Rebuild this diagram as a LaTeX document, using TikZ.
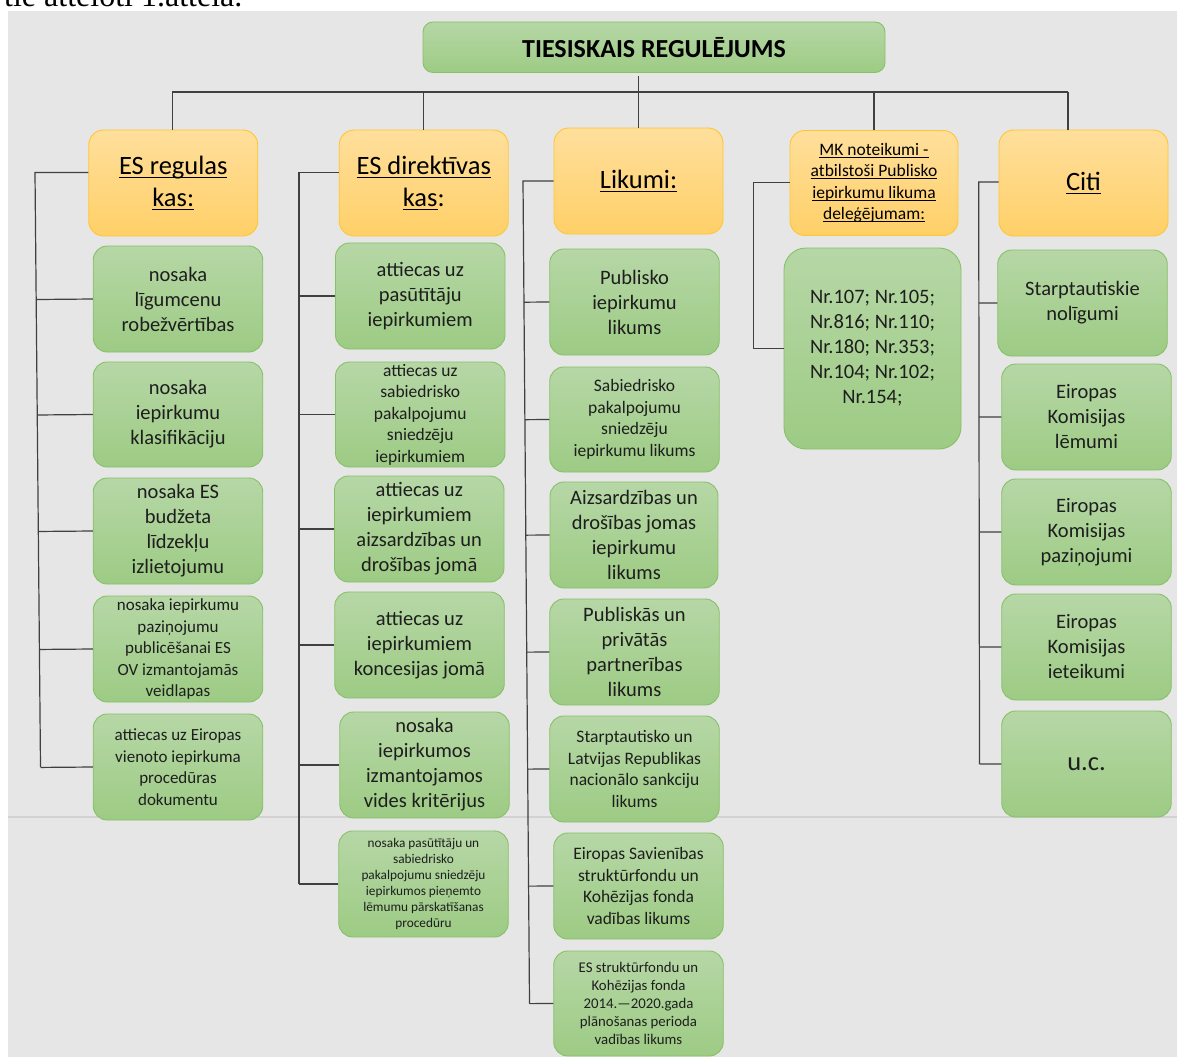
\documentclass[tikz,border=0pt]{standalone}
\usepackage{fontspec}
\setmainfont{Carlito}
\newfontfamily\capfont{Liberation Serif}
\usetikzlibrary{calc}
\definecolor{bggray}{RGB}{230,230,230}
\definecolor{pbline}{RGB}{210,210,210}
\definecolor{lnc}{RGB}{64,64,64}
\definecolor{gtop}{RGB}{182,215,166}
\definecolor{gbot}{RGB}{157,203,132}
\definecolor{gbd}{RGB}{135,193,103}
\definecolor{otop}{RGB}{255,223,156}
\definecolor{obot}{RGB}{255,208,104}
\definecolor{obd}{RGB}{255,198,48}
\definecolor{gtxt}{RGB}{30,30,30}
\newcommand\myfs[2]{\fontsize{#1}{#2}\selectfont}
\newcommand\myul[1]{\setbox0\hbox{#1}\rlap{\rule[-0.14em]{\wd0}{0.055em}}\box0}
\tikzset{
 conn/.style={draw=lnc, line width=1.2pt},
 gbox/.style={draw=gbd, line width=0.9pt, rounded corners=14pt, top color=gtop, bottom color=gbot, inner sep=0pt, align=center, text=gtxt, font=\myfs{20.5}{25}, minimum width=169.5pt, minimum height=106pt},
 obox/.style={draw=obd, line width=0.9pt, rounded corners=15pt, top color=otop, bottom color=obot, inner sep=0pt, align=center, text=black, font=\myfs{26.5}{32}, minimum width=169pt, minimum height=106pt},
 smalltxt/.style={font=\myfs{17.5}{21.5}},
}
\begin{document}
\begin{tikzpicture}[x=1pt,y=-1pt]
\useasboundingbox (0,0) rectangle (1177,1057);
% page background
\fill[bggray] (8,11) rectangle (1177,1057);
\begin{scope}
\clip (0,0) rectangle (1177,11);
\node[anchor=base west, inner sep=0pt, font=\capfont\myfs{32}{38}] (caption) at (4,7) {tie attēloti 1.attēlā.};
\end{scope}
\draw[pbline, line width=2pt] (8,816.5) -- (1177,816.5);

% title
\node[gbox, minimum width=462pt, minimum height=50.5pt, rounded corners=10pt, text=black, font=\bfseries\myfs{26}{30}] (title) at (654,47.25) {TIESISKAIS REGULĒJUMS};

% headers
\node[obox] (h1) at (173.25,183) {\myul{ES regulas}\\\myul{kas:}};
\node[obox] (h2) at (423.75,183) {\myul{ES direktīvas}\\\myul{kas}:};
\node[obox] (h3) at (638.5,181) {\myul{Likumi:}};
\node[obox, minimum width=168pt, minimum height=105pt, font=\myfs{17.5}{21.5}] (h4) at (874,183) {\myul{MK noteikumi -}\\\myul{atbilstoši Publisko}\\\myul{iepirkumu likuma}\\\myul{deleģējumam:}};
\node[obox] (h5) at (1083.5,183) {\myul{Citi}};

% column 1
\node[gbox] (g11) at (178,299) {nosaka\\līgumcenu\\robežvērtības};
\node[gbox, minimum height=105pt] (g12) at (178,414.5) {nosaka\\iepirkumu\\klasifikāciju};
\node[gbox] (g13) at (178,531) {nosaka ES\\budžeta\\līdzekļu\\izlietojumu};
\node[gbox, font=\myfs{17}{21.5}] (g14) at (178,649) {nosaka iepirkumu\\paziņojumu\\publicēšanai ES\\OV izmantojamās\\veidlapas};
\node[gbox, font=\myfs{17}{21.5}] (g15) at (178,767) {attiecas uz Eiropas\\vienoto iepirkuma\\procedūras\\dokumentu};

% column 2
\node[gbox] (g21) at (420.25,296) {attiecas uz\\pasūtītāju\\iepirkumiem};
\node[gbox, minimum height=105pt, smalltxt] (g22) at (420.25,414.5) {attiecas uz\\sabiedrisko\\pakalpojumu\\sniedzēju\\iepirkumiem};
\node[gbox] (g23) at (419.25,529) {attiecas uz\\iepirkumiem\\aizsardzības un\\drošības jomā};
\node[gbox] (g24) at (419.5,645) {attiecas uz\\iepirkumiem\\koncesijas jomā};
\node[gbox] (g25) at (424.5,765) {nosaka\\iepirkumos\\izmantojamos\\vides kritērijus};
\node[gbox, font=\myfs{13.3}{16}] (g26) at (423.5,884) {nosaka pasūtītāju un\\sabiedrisko\\pakalpojumu sniedzēju\\iepirkumos pieņemto\\lēmumu pārskatīšanas\\procedūru};

% column 3
\node[gbox] (g31) at (634.5,302) {Publisko\\iepirkumu\\likums};
\node[gbox, minimum height=105pt, smalltxt] (g32) at (634.5,419.5) {Sabiedrisko\\pakalpojumu\\sniedzēju\\iepirkumu likums};
\node[gbox, minimum width=168pt] (g33) at (634,535) {Aizsardzības un\\drošības jomas\\iepirkumu\\likums};
\node[gbox] (g34) at (634.5,652) {Publiskās un\\privātās\\partnerības\\likums};
\node[gbox, smalltxt] (g35) at (634.5,769) {Starptautisko un\\Latvijas Republikas\\nacionālo sankciju\\likums};
\node[gbox, smalltxt] (g36) at (638.5,886) {Eiropas Savienības\\struktūrfondu un\\Kohēzijas fonda\\vadības likums};
\node[gbox, minimum height=105pt, font=\myfs{14.8}{18}] (g37) at (638.5,1003.5) {ES struktūrfondu un\\Kohēzijas fonda\\2014.—2020.gada\\plānošanas perioda\\vadības likums};

% column 4
\node[gbox, minimum width=177pt, minimum height=201pt, rounded corners=22pt] (g41) at (872.5,348.5) {Nr.107; Nr.105;\\Nr.816; Nr.110;\\Nr.180; Nr.353;\\Nr.104; Nr.102;\\Nr.154;};

% column 5
\node[gbox] (g51) at (1082.5,303) {Starptautiskie\\nolīgumi};
\node[gbox] (g52) at (1086.5,417) {Eiropas\\Komisijas\\lēmumi};
\node[gbox] (g53) at (1086.5,532) {Eiropas\\Komisijas\\paziņojumi};
\node[gbox] (g54) at (1086.5,647) {Eiropas\\Komisijas\\ieteikumi};
\node[gbox, font=\myfs{26.5}{32}] (g55) at (1086.5,764) {u.c.};

% top connectors
\coordinate (bar) at (0,92);
\draw[conn] ($(h3.north |- title.south)+(0,3)$) -- (h3.north |- bar);
\draw[conn] ([xshift=-1pt]h1.north |- bar) -- ([xshift=-15.5pt]h5.north |- bar);
\foreach \h/\dx in {h1/-1,h2/0,h3/0,h4/0,h5/-15.5} \draw[conn] ([xshift=\dx pt]\h.north |- bar) -- ([xshift=\dx pt]\h.north);

% column 1 tree
\coordinate (t1a) at (35,172.5);
\coordinate (t1b) at (40.5,767);
\draw[conn] (t1a -| h1.west) -- (t1a) -- (t1b);
\foreach \c in {g11,g12,g13,g14,g15} \draw[conn] ($(t1a)!(\c.west)!(t1b)$) -- (\c.west);

% column 2 tree
\coordinate (t2a) at (299,172.5);
\coordinate (t2b) at (299,884);
\draw[conn] (t2a -| h2.west) -- (t2a) -- (t2b);
\foreach \c in {g21,g22,g23,g24,g25,g26} \draw[conn] ($(t2a)!(\c.west)!(t2b)$) -- (\c.west);

% column 3 tree
\coordinate (t3a) at (523,181);
\coordinate (t3b) at (529.5,1003.5);
\draw[conn] (h3.west) -- (t3a) -- (t3b);
\foreach \c in {g31,g32,g33,g34,g35,g36,g37} \draw[conn] ($(t3a)!(\c.west)!(t3b)$) -- (\c.west);

% column 4 tree
\coordinate (t4a) at (753.5,182.3);
\coordinate (t4b) at (753.5,348.5);
\draw[conn] (t4a -| h4.west) -- (t4a) -- (t4b) -- (g41.west);

% column 5 tree
\coordinate (t5a) at (978.7,182);
\coordinate (t5b) at (979.5,764);
\draw[conn] (t5a -| h5.west) -- (t5a) -- (t5b);
\foreach \c in {g51,g52,g53,g54,g55} \draw[conn] ($(t5a)!(\c.west)!(t5b)$) -- (\c.west);
\end{tikzpicture}
\end{document}
